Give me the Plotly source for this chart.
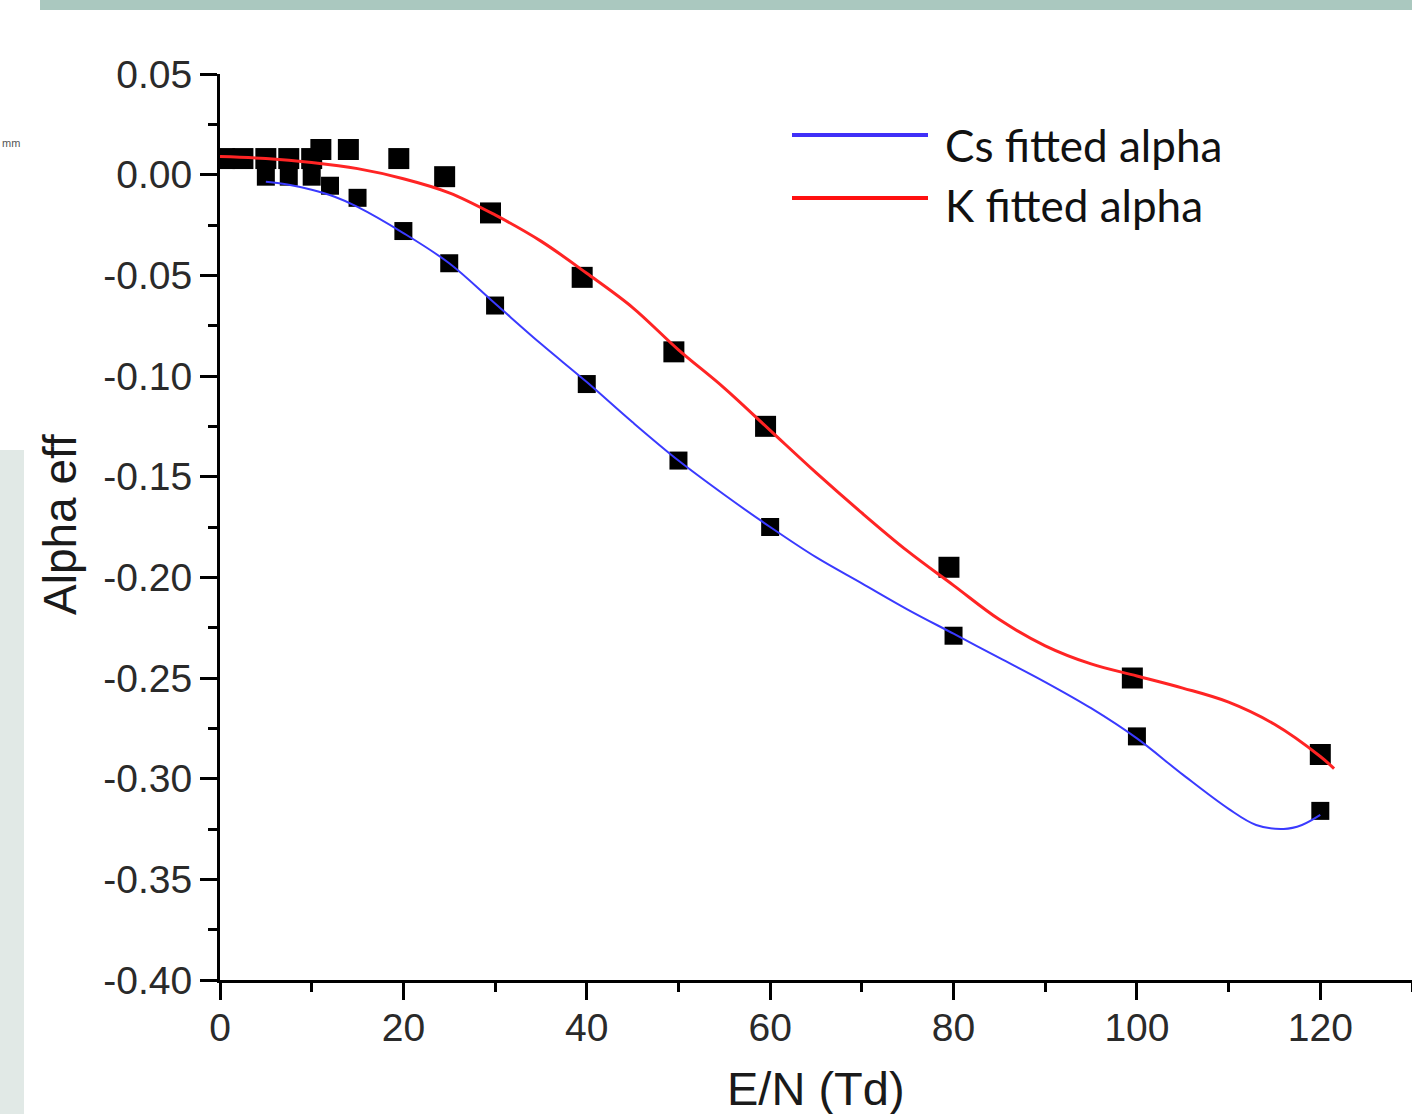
import plotly.graph_objects as go

# ---------------- data ----------------
cs_x = [5, 7.5, 10, 12, 15, 20, 25, 30, 40, 50, 60, 80, 100, 120]
cs_y = [-0.001, -0.001, -0.001, -0.0055, -0.0115, -0.028, -0.044, -0.065, -0.104, -0.142, -0.175, -0.229, -0.279, -0.316]

k_x = [0.5, 2.5, 5, 7.5, 10, 11, 14, 19.5, 24.5, 29.5, 39.5, 49.5, 59.5, 79.5, 99.5, 120]
k_y = [0.008, 0.008, 0.008, 0.008, 0.008, 0.0125, 0.0125, 0.008, -0.001, -0.019, -0.051, -0.088, -0.125, -0.195, -0.250, -0.288]

cs_fit_x = [5, 7.5, 10, 12.5, 15, 20, 25, 30, 35, 40, 45, 50, 55, 60, 65, 70, 75, 80, 85, 90,
            95, 100, 105, 110, 113, 116, 118, 120]
cs_fit_y = [-0.0035, -0.005, -0.0075, -0.011, -0.016, -0.029, -0.044, -0.064, -0.084, -0.103,
            -0.123, -0.142, -0.159, -0.175, -0.190, -0.203, -0.216, -0.228, -0.240, -0.252,
            -0.265, -0.280, -0.298, -0.315, -0.323, -0.325, -0.323, -0.318]

k_fit_x = [0, 5, 10, 15, 20, 25, 30, 35, 40, 45, 50, 55, 60, 65, 70, 75, 80, 85, 90, 95,
           100, 105, 110, 115, 120, 121.5]
k_fit_y = [0.009, 0.008, 0.006, 0.003, -0.002, -0.009, -0.020, -0.033, -0.049, -0.066,
           -0.087, -0.106, -0.127, -0.148, -0.168, -0.187, -0.204, -0.221, -0.234, -0.243,
           -0.249, -0.255, -0.262, -0.273, -0.289, -0.295]

x_tickvals = [0, 20, 40, 60, 80, 100, 120]
x_ticktext = ["0", "20", "40", "60", "80", "100", "120"]
y_tickvals = [0.05, 0.0, -0.05, -0.10, -0.15, -0.20, -0.25, -0.30, -0.35, -0.40]
y_ticktext = ["0.05", "0.00", "-0.05", "-0.10", "-0.15", "-0.20", "-0.25", "-0.30", "-0.35", "-0.40"]

series_names = ["Cs fitted alpha", "K fitted alpha"]
x_title = "E/N (Td)"
y_title = "Alpha eff"

# ---------------- figure ----------------
W, H = 1412, 1114
L, R, T, B = 220, 0, 74, 134
pw, ph = W - L - R, H - T - B


def px_x(p):
    return (p - L) / pw


def px_y(p):
    return (H - B - p) / ph


fig = go.Figure()

fig.add_trace(go.Scatter(x=k_x, y=k_y, mode="markers",
                         marker=dict(symbol="square", size=21, color="black", line=dict(width=0)),
                         showlegend=False, name="K data"))
fig.add_trace(go.Scatter(x=cs_x, y=cs_y, mode="markers",
                         marker=dict(symbol="square", size=18, color="black", line=dict(width=0)),
                         showlegend=False, name="Cs data"))
fig.add_trace(go.Scatter(x=cs_fit_x, y=cs_fit_y, mode="lines", name=series_names[0],
                         line=dict(color="#3a3aff", width=2, shape="spline", smoothing=1),
                         showlegend=False))
fig.add_trace(go.Scatter(x=k_fit_x, y=k_fit_y, mode="lines", name=series_names[1],
                         line=dict(color="#ff2424", width=3, shape="spline", smoothing=1),
                         showlegend=False))

tick_font = dict(family="Liberation Sans, Arial, sans-serif", size=39, color="#2a2a2a")

fig.update_xaxes(range=[0, 130], showline=True, linecolor="black", linewidth=3,
                 ticks="outside", ticklen=17, tickwidth=3, tickcolor="black",
                 tickvals=x_tickvals, ticktext=x_ticktext, tickfont=tick_font,
                 ticklabelstandoff=-6,
                 minor=dict(dtick=10, tick0=0, ticks="outside", ticklen=9, tickwidth=3, tickcolor="black"),
                 showgrid=False, zeroline=False)
fig.update_yaxes(range=[-0.40, 0.05], showline=True, linecolor="black", linewidth=3,
                 ticks="outside", ticklen=17, tickwidth=3, tickcolor="black",
                 tickvals=y_tickvals, ticktext=y_ticktext, tickfont=tick_font,
                 minor=dict(dtick=0.025, tick0=0, ticks="outside", ticklen=9, tickwidth=3, tickcolor="black"),
                 showgrid=False, zeroline=False)

shapes = [
    # top teal strip
    dict(type="rect", xref="paper", yref="paper", x0=px_x(40), x1=px_x(1412), y0=px_y(10), y1=px_y(0),
         fillcolor="#aac8bf", line=dict(width=0), layer="below"),
    # left light panel
    dict(type="rect", xref="paper", yref="paper", x0=px_x(0), x1=px_x(24), y0=px_y(1114), y1=px_y(450),
         fillcolor="#e1e9e6", line=dict(width=0), layer="below"),
    # legend lines
    dict(type="line", xref="paper", yref="paper", x0=px_x(792), x1=px_x(928), y0=px_y(135), y1=px_y(135),
         line=dict(color="#4030f8", width=4)),
    dict(type="line", xref="paper", yref="paper", x0=px_x(792), x1=px_x(928), y0=px_y(198), y1=px_y(198),
         line=dict(color="#ff1010", width=4)),
]

legend_font = dict(family="Lato, Noto Sans, sans-serif", size=44, color="#111111")
annotations = [
    dict(text=series_names[0], xref="paper", yref="paper", x=px_x(943), y=px_y(145),
         xanchor="left", yanchor="middle", showarrow=False, font=legend_font),
    dict(text=series_names[1], xref="paper", yref="paper", x=px_x(943), y=px_y(205),
         xanchor="left", yanchor="middle", showarrow=False, font=legend_font),
    dict(text=x_title, xref="paper", yref="paper", x=px_x(816), y=px_y(1088),
         xanchor="center", yanchor="middle", showarrow=False,
         font=dict(family="Liberation Sans, Arial, sans-serif", size=47, color="#1a1a1a")),
    dict(text=y_title, xref="paper", yref="paper", x=px_x(60), y=px_y(525), textangle=-90,
         xanchor="center", yanchor="middle", showarrow=False,
         font=dict(family="Liberation Sans, Arial, sans-serif", size=46, color="#1a1a1a")),
    dict(text="mm", xref="paper", yref="paper", x=px_x(0), y=px_y(143),
         xanchor="left", yanchor="middle", showarrow=False,
         font=dict(family="Liberation Sans, Arial, sans-serif", size=11, color="#555555")),
]

fig.update_layout(width=W, height=H, margin=dict(l=L, r=R, t=T, b=B, pad=0),
                  paper_bgcolor="white", plot_bgcolor="white",
                  shapes=shapes, annotations=annotations, showlegend=False)

fig.write_html("out.html", config={"displayModeBar": False},
               post_script="document.body.style.margin='0';document.body.style.overflow='hidden';")
